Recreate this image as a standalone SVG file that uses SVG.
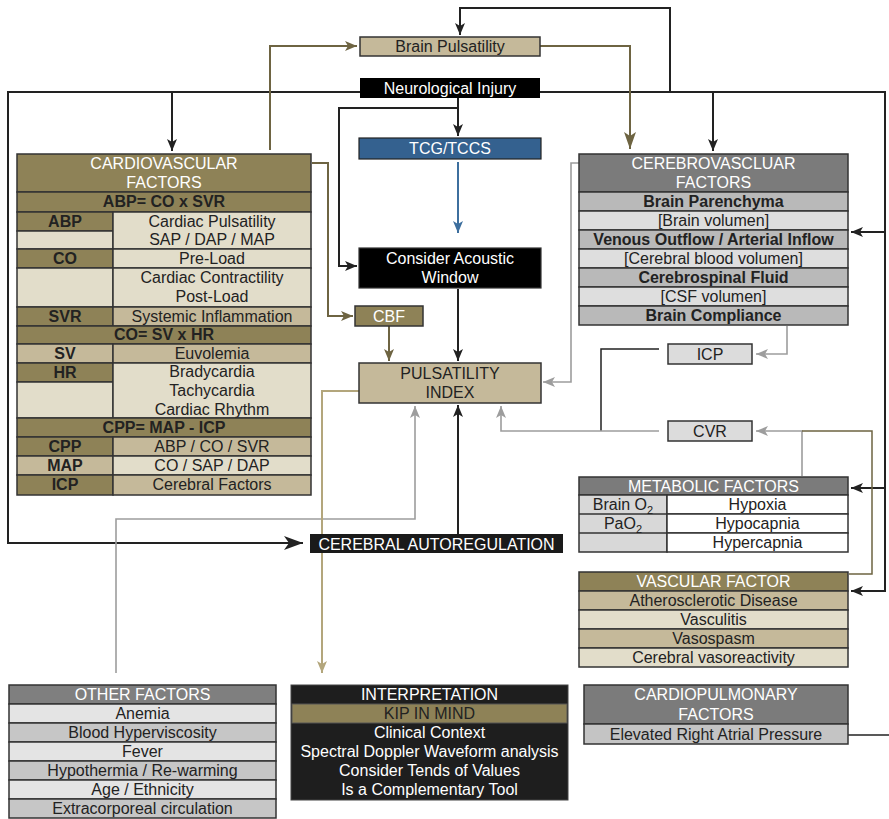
<svg xmlns="http://www.w3.org/2000/svg" width="889" height="819" viewBox="0 0 889 819">
  <style>
    .t { font-family: "Liberation Sans", Arial, Helvetica, sans-serif; font-size: 16px; text-anchor: middle; fill: #222; }
    .w { fill: #fff; }
    .b { font-weight: bold; }
    .cell { stroke: #333; stroke-width: 1.5; }
    .ol { fill: #8e8257; }
    .tan { fill: #c5b99a; }
    .cr { fill: #e2ddca; }
    .gh { fill: #7b7b7b; }
    .gm { fill: #b9b9b9; }
    .gl { fill: #dedede; }
    .c-blk { fill: none; stroke: #222; stroke-width: 2; }
    .c-gry { fill: none; stroke: #9d9d9d; stroke-width: 1.6; }
    .c-olv { fill: none; stroke: #6e6442; stroke-width: 2; }
    .c-lol { fill: none; stroke: #b3a67c; stroke-width: 2; }
    .c-blu { fill: none; stroke: #3d6f9e; stroke-width: 2; }
  </style>
  <defs>
    <marker id="aBlk" markerUnits="userSpaceOnUse" markerWidth="13" markerHeight="11" refX="12" refY="5" orient="auto">
      <path d="M0,0 L12,5 L0,10 L3,5 Z" fill="#222"/>
    </marker>
    <marker id="aBig" markerUnits="userSpaceOnUse" markerWidth="20" markerHeight="15" refX="19" refY="7" orient="auto">
      <path d="M0,0 L19,7 L0,14 L5,7 Z" fill="#222"/>
    </marker>
    <marker id="aGry" markerUnits="userSpaceOnUse" markerWidth="13" markerHeight="11" refX="12" refY="5" orient="auto">
      <path d="M0,0 L12,5 L0,10 L3,5 Z" fill="#9d9d9d"/>
    </marker>
    <marker id="aOlv" markerUnits="userSpaceOnUse" markerWidth="13" markerHeight="11" refX="12" refY="5" orient="auto">
      <path d="M0,0 L12,5 L0,10 L3,5 Z" fill="#6e6442"/>
    </marker>
    <marker id="aOlvBig" markerUnits="userSpaceOnUse" markerWidth="18" markerHeight="13" refX="17" refY="6" orient="auto">
      <path d="M0,0 L17,6 L0,12 L4,6 Z" fill="#6e6442"/>
    </marker>
    <marker id="aLol" markerUnits="userSpaceOnUse" markerWidth="13" markerHeight="11" refX="12" refY="5" orient="auto">
      <path d="M0,0 L12,5 L0,10 L3,5 Z" fill="#b3a67c"/>
    </marker>
    <marker id="aBlu" markerUnits="userSpaceOnUse" markerWidth="13" markerHeight="11" refX="12" refY="5" orient="auto">
      <path d="M0,0 L12,5 L0,10 L3,5 Z" fill="#3d6f9e"/>
    </marker>
  </defs>

  <rect width="889" height="819" fill="#fff"/>

  <!-- connectors -->
  <g id="connectors">
    <!-- neurological injury trunk -->
    <path class="c-blk" d="M360,92 H8 V543 H303" marker-end="url(#aBig)"/>
    <path class="c-blk" d="M540,92 H885 V591 H851" marker-end="url(#aBlk)"/>
    <path class="c-blk" d="M885,232 H851" marker-end="url(#aBlk)"/>
    <path class="c-blk" d="M885,488 H851" marker-end="url(#aBlk)"/>
    <path class="c-blk" d="M670,92 V8 H460 V35" marker-end="url(#aBlk)"/>
    <path class="c-blk" d="M172,92 V151" marker-end="url(#aBlk)"/>
    <path class="c-blk" d="M713,92 V151" marker-end="url(#aBlk)"/>
    <path class="c-blk" d="M458,98 V136" marker-end="url(#aBlk)"/>
    <path class="c-blk" d="M458,108 H339 V266 H357" marker-end="url(#aBlk)"/>
    <path class="c-blk" d="M458,289 V361" marker-end="url(#aBlk)"/>
    <path class="c-blk" d="M458,534 V405" marker-end="url(#aBlk)"/>
    <path class="c-blk" d="M659,349 H601 V431" style="stroke-width:1.5"/>
    <path class="c-blk" d="M848,735 H889" style="stroke-width:1.5"/>

    <!-- grey links -->
    <path class="c-gry" d="M579,163 H571 V382 H543" marker-end="url(#aGry)"/>
    <path class="c-gry" d="M787,326 V354 H756" marker-end="url(#aGry)"/>
    <path class="c-gry" d="M659,431 H501 V406" marker-end="url(#aGry)"/>
    <path class="c-gry" d="M802,476 V431 H756" marker-end="url(#aGry)"/>
    <path class="c-gry" d="M116,673 V519 H415 V406" marker-end="url(#aGry)"/>

    <!-- olive links -->
    <path class="c-olv" d="M270,150 V46 H357" marker-end="url(#aOlv)"/>
    <path class="c-olv" d="M540,46 H630 V149" marker-end="url(#aOlvBig)"/>
    <path class="c-olv" d="M312,163 H328 V316 H353" marker-end="url(#aOlv)"/>
    <path class="c-olv" d="M389,326 V361" marker-end="url(#aOlv)"/>
    <path class="c-olv" d="M849,574 H872 V431 H802" style="stroke-width:1.5"/>
    <path class="c-lol" d="M359,391 H322 V673" marker-end="url(#aLol)"/>

    <!-- ultrasound path -->
    <path class="c-blu" d="M458,162 V233" marker-end="url(#aBlu)"/>
  </g>

  <!-- top row nodes -->
  <g id="brain-pulsatility">
    <rect x="360" y="37" width="180" height="19" class="cell tan"/>
    <text x="450" y="52" class="t">Brain Pulsatility</text>
  </g>
  <g id="neurological-injury">
    <rect x="360" y="78" width="180" height="20" fill="#000"/>
    <text x="450" y="94" class="t w">Neurological Injury</text>
  </g>
  <g id="tcg-tccs">
    <rect x="359" y="138" width="182" height="21" fill="#34618f" stroke="#222" stroke-width="1.2"/>
    <text x="450" y="154" class="t w">TCG/TCCS</text>
  </g>
  <g id="acoustic-window">
    <rect x="359" y="248" width="182" height="40" fill="#000" stroke="#333" stroke-width="1.2"/>
    <text x="450" y="264" class="t w">Consider Acoustic</text>
    <text x="450" y="283" class="t w">Window</text>
  </g>
  <g id="cbf">
    <rect x="355" y="306" width="68" height="20" class="cell ol"/>
    <text x="389" y="322" class="t w">CBF</text>
  </g>
  <g id="pulsatility-index">
    <rect x="359" y="363" width="182" height="40" class="cell tan"/>
    <text x="450" y="379" class="t">PULSATILITY</text>
    <text x="450" y="398" class="t">INDEX</text>
  </g>
  <g id="icp">
    <rect x="668" y="344" width="84" height="20" class="cell" fill="#dcdcdc"/>
    <text x="710" y="360" class="t">ICP</text>
  </g>
  <g id="cvr">
    <rect x="668" y="421" width="84" height="20" class="cell" fill="#dcdcdc"/>
    <text x="710" y="437" class="t">CVR</text>
  </g>
  <g id="cerebral-autoregulation">
    <rect x="310" y="534" width="253" height="19" fill="#1a1a1a"/>
    <text x="436.5" y="550" class="t w">CEREBRAL AUTOREGULATION</text>
  </g>

  <!-- cardiovascular factors table -->
  <g id="cardiovascular-factors">
    <rect x="17" y="154" width="294" height="38" class="cell ol"/>
    <text x="164" y="169" class="t w">CARDIOVASCULAR</text>
    <text x="164" y="188" class="t w">FACTORS</text>

    <rect x="17" y="192" width="294" height="20" class="cell ol"/>
    <text x="164" y="207" class="t b">ABP= CO x SVR</text>

    <rect x="17" y="212" width="96" height="19" class="cell ol"/>
    <rect x="17" y="231" width="96" height="18" class="cell cr"/>
    <rect x="113" y="212" width="198" height="37" class="cell cr"/>
    <text x="65" y="227" class="t b">ABP</text>
    <text x="212" y="227" class="t">Cardiac Pulsatility</text>
    <text x="212" y="245" class="t">SAP / DAP / MAP</text>

    <rect x="17" y="249" width="96" height="19" class="cell ol"/>
    <rect x="113" y="249" width="198" height="19" class="cell cr"/>
    <text x="65" y="264" class="t b">CO</text>
    <text x="212" y="264" class="t">Pre-Load</text>

    <rect x="17" y="268" width="96" height="39" class="cell cr"/>
    <rect x="113" y="268" width="198" height="39" class="cell cr"/>
    <text x="212" y="283" class="t">Cardiac Contractility</text>
    <text x="212" y="302" class="t">Post-Load</text>

    <rect x="17" y="307" width="96" height="19" class="cell ol"/>
    <rect x="113" y="307" width="198" height="19" class="cell tan"/>
    <text x="65" y="322" class="t b">SVR</text>
    <text x="212" y="322" class="t">Systemic Inflammation</text>

    <rect x="17" y="326" width="294" height="18" class="cell ol"/>
    <text x="164" y="340" class="t b">CO= SV x HR</text>

    <rect x="17" y="344" width="96" height="19" class="cell tan"/>
    <rect x="113" y="344" width="198" height="19" class="cell tan"/>
    <text x="65" y="359" class="t b">SV</text>
    <text x="212" y="359" class="t">Euvolemia</text>

    <rect x="17" y="363" width="96" height="19" class="cell ol"/>
    <rect x="17" y="382" width="96" height="36" class="cell cr"/>
    <rect x="113" y="363" width="198" height="55" class="cell cr"/>
    <text x="65" y="378" class="t b">HR</text>
    <text x="212" y="377" class="t">Bradycardia</text>
    <text x="212" y="396" class="t">Tachycardia</text>
    <text x="212" y="415" class="t">Cardiac Rhythm</text>

    <rect x="17" y="418" width="294" height="19" class="cell ol"/>
    <text x="164" y="433" class="t b">CPP= MAP - ICP</text>

    <rect x="17" y="437" width="96" height="19" class="cell ol"/>
    <rect x="113" y="437" width="198" height="19" class="cell tan"/>
    <text x="65" y="452" class="t b">CPP</text>
    <text x="212" y="452" class="t">ABP / CO / SVR</text>

    <rect x="17" y="456" width="96" height="19" class="cell tan"/>
    <rect x="113" y="456" width="198" height="19" class="cell cr"/>
    <text x="65" y="471" class="t b">MAP</text>
    <text x="212" y="471" class="t">CO / SAP / DAP</text>

    <rect x="17" y="475" width="96" height="20" class="cell ol"/>
    <rect x="113" y="475" width="198" height="20" class="cell tan"/>
    <text x="65" y="490" class="t b">ICP</text>
    <text x="212" y="490" class="t">Cerebral Factors</text>
  </g>

  <!-- cerebrovascular factors table -->
  <g id="cerebrovascular-factors">
    <rect x="579" y="154" width="269" height="38" class="cell gh"/>
    <text x="713.5" y="169" class="t w">CEREBROVASCLUAR</text>
    <text x="713.5" y="188" class="t w">FACTORS</text>
    <rect x="579" y="192" width="269" height="19" class="cell gm"/>
    <text x="713.5" y="207" class="t b">Brain Parenchyma</text>
    <rect x="579" y="211" width="269" height="19" class="cell gl"/>
    <text x="713.5" y="226" class="t">[Brain volumen]</text>
    <rect x="579" y="230" width="269" height="19" class="cell gm"/>
    <text x="713.5" y="245" class="t b">Venous Outflow / Arterial Inflow</text>
    <rect x="579" y="249" width="269" height="19" class="cell gl"/>
    <text x="713.5" y="264" class="t">[Cerebral blood volumen]</text>
    <rect x="579" y="268" width="269" height="19" class="cell gm"/>
    <text x="713.5" y="283" class="t b">Cerebrospinal Fluid</text>
    <rect x="579" y="287" width="269" height="19" class="cell gl"/>
    <text x="713.5" y="302" class="t">[CSF volumen]</text>
    <rect x="579" y="306" width="269" height="19" class="cell gm"/>
    <text x="713.5" y="321" class="t b">Brain Compliance</text>
  </g>

  <!-- metabolic factors table -->
  <g id="metabolic-factors">
    <rect x="579" y="477" width="269" height="18" class="cell gh"/>
    <text x="713.5" y="492" class="t w">METABOLIC FACTORS</text>
    <rect x="579" y="495" width="88" height="57" class="cell" fill="#d8d8d8"/>
    <line x1="579" y1="514" x2="667" y2="514" stroke="#333" stroke-width="1.5"/>
    <line x1="579" y1="533" x2="667" y2="533" stroke="#333" stroke-width="1.5"/>
    <rect x="667" y="495" width="181" height="19" class="cell" fill="#fff"/>
    <rect x="667" y="514" width="181" height="19" class="cell" fill="#fff"/>
    <rect x="667" y="533" width="181" height="19" class="cell" fill="#fff"/>
    <text x="623" y="510" class="t">Brain O<tspan font-size="11" dy="4">2</tspan></text>
    <text x="623" y="529" class="t">PaO<tspan font-size="11" dy="4">2</tspan></text>
    <text x="757.5" y="510" class="t">Hypoxia</text>
    <text x="757.5" y="529" class="t">Hypocapnia</text>
    <text x="757.5" y="548" class="t">Hypercapnia</text>
  </g>

  <!-- vascular factor table -->
  <g id="vascular-factor">
    <rect x="579" y="572" width="269" height="19" class="cell ol"/>
    <text x="713.5" y="587" class="t w">VASCULAR FACTOR</text>
    <rect x="579" y="591" width="269" height="19" class="cell tan"/>
    <text x="713.5" y="606" class="t">Atherosclerotic Disease</text>
    <rect x="579" y="610" width="269" height="19" class="cell cr"/>
    <text x="713.5" y="625" class="t">Vasculitis</text>
    <rect x="579" y="629" width="269" height="19" class="cell tan"/>
    <text x="713.5" y="644" class="t">Vasospasm</text>
    <rect x="579" y="648" width="269" height="19" class="cell cr"/>
    <text x="713.5" y="663" class="t">Cerebral vasoreactivity</text>
  </g>

  <!-- other factors table -->
  <g id="other-factors">
    <rect x="9" y="685" width="267" height="19" class="cell" fill="#7f7f7f"/>
    <text x="142.5" y="700" class="t w">OTHER FACTORS</text>
    <rect x="9" y="704" width="267" height="19" class="cell" fill="#e4e4e4"/>
    <text x="142.5" y="719" class="t">Anemia</text>
    <rect x="9" y="723" width="267" height="19" class="cell" fill="#c6c6c6"/>
    <text x="142.5" y="738" class="t">Blood Hyperviscosity</text>
    <rect x="9" y="742" width="267" height="19" class="cell" fill="#e4e4e4"/>
    <text x="142.5" y="757" class="t">Fever</text>
    <rect x="9" y="761" width="267" height="19" class="cell" fill="#c6c6c6"/>
    <text x="142.5" y="776" class="t">Hypothermia / Re-warming</text>
    <rect x="9" y="780" width="267" height="19" class="cell" fill="#e4e4e4"/>
    <text x="142.5" y="795" class="t">Age / Ethnicity</text>
    <rect x="9" y="799" width="267" height="19" class="cell" fill="#c6c6c6"/>
    <text x="142.5" y="814" class="t">Extracorporeal circulation</text>
  </g>

  <!-- interpretation panel -->
  <g id="interpretation">
    <rect x="291" y="685" width="277" height="115" fill="#1e1e1e" stroke="#444" stroke-width="1"/>
    <text x="429.5" y="700" class="t w">INTERPRETATION</text>
    <rect x="292" y="704" width="275" height="19" fill="#8e8257" stroke="#555" stroke-width="1"/>
    <text x="429.5" y="719" class="t">KIP IN MIND</text>
    <text x="429.5" y="738" class="t w">Clinical Context</text>
    <text x="429.5" y="757" class="t w">Spectral Doppler Waveform analysis</text>
    <text x="429.5" y="776" class="t w">Consider Tends of Values</text>
    <text x="429.5" y="795" class="t w">Is a Complementary Tool</text>
  </g>

  <!-- cardiopulmonary factors -->
  <g id="cardiopulmonary-factors">
    <rect x="584" y="685" width="264" height="39" class="cell gh"/>
    <text x="716" y="700" class="t w">CARDIOPULMONARY</text>
    <text x="716" y="720" class="t w">FACTORS</text>
    <rect x="584" y="724" width="264" height="20" class="cell" fill="#c4c4c4"/>
    <text x="716" y="740" class="t">Elevated Right Atrial Pressure</text>
  </g>
</svg>
